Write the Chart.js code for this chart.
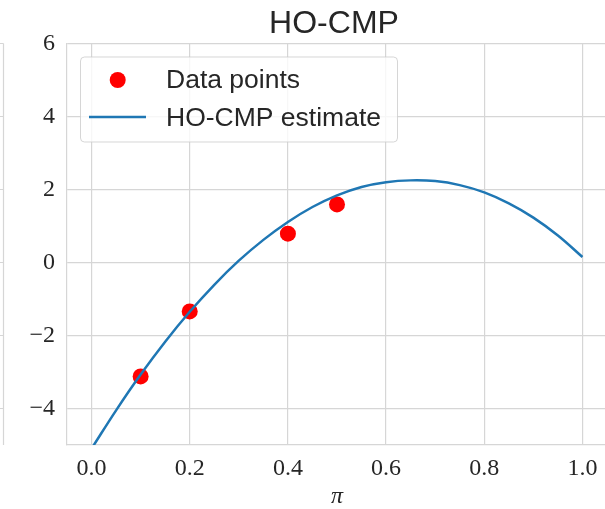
<!DOCTYPE html>
<html>
<head>
<meta charset="utf-8">
<script src="https://cdn.jsdelivr.net/npm/chart.js@4.4.1/dist/chart.umd.min.js"></script>
<style>
  html, body { margin: 0; padding: 0; background: #ffffff; overflow: hidden; width: 605px; height: 509px; }
  #c { display: block; }
</style>
</head>
<body>
<canvas id="c" width="640" height="509" style="width:640px;height:509px;"></canvas>
<script>
// ---- data ----
const chartTitle = 'HO-CMP';
const xAxisLabel = 'π';
const seriesPointsLabel = 'Data points';
const seriesCurveLabel = 'HO-CMP estimate';

const pointX = [0.1, 0.2, 0.4, 0.5];
const pointY = [-3.12, -1.34, 0.79, 1.59];

const curveX = [0.00, 0.05, 0.10, 0.15, 0.20, 0.25, 0.30, 0.35, 0.40, 0.45, 0.50,
                0.55, 0.60, 0.65, 0.70, 0.75, 0.80, 0.85, 0.90, 0.95, 1.00];
const curveY = [-5.10, -4.05, -3.07, -2.17, -1.35, -0.61, 0.05, 0.62, 1.11, 1.52, 1.84,
                2.07, 2.20, 2.25, 2.23, 2.12, 1.92, 1.62, 1.23, 0.74, 0.15];

const xTicks = [0.0, 0.2, 0.4, 0.6, 0.8, 1.0];
const xTickLabels = ['0.0', '0.2', '0.4', '0.6', '0.8', '1.0'];
const yTicks = [-4, -2, 0, 2, 4, 6];
const yTickLabels = ['\u22124', '\u22122', '0', '2', '4', '6'];

const xRange = [-0.05, 1.05];
const yRange = [-5, 6];

// ---- styles ----
const TEXT = '#262626';
const GRID = '#d6d6d6';
const RED = '#ff0000';
const BLUE = '#1f77b4';
const SERIF = '"Liberation Serif", "DejaVu Serif", serif';
const SANS = '"Liberation Sans", Arial, "DejaVu Sans", sans-serif';

const overlay = {
  id: 'overlay',
  afterDraw(chart) {
    const ctx = chart.ctx;
    const a = chart.chartArea;
    const ys = chart.scales.y;
    ctx.save();
    // remnant of neighbouring subplot on the left
    ctx.strokeStyle = GRID;
    ctx.lineWidth = 1.2;
    ctx.beginPath();
    ctx.moveTo(3.5, a.top);
    ctx.lineTo(3.5, a.bottom);
    yTicks.forEach(v => {
      const p = ys.getPixelForValue(v);
      ctx.moveTo(0, p);
      ctx.lineTo(3.5, p);
    });
    ctx.stroke();

    // title
    ctx.fillStyle = TEXT;
    ctx.font = '32px ' + SANS;
    ctx.textAlign = 'center';
    ctx.textBaseline = 'alphabetic';
    ctx.fillText(chartTitle, 334, 33);

    // legend
    const bx = 80.5, by = 57, bw = 317, bh = 85;
    ctx.beginPath();
    ctx.roundRect(bx, by, bw, bh, 4);
    ctx.fillStyle = 'rgba(255,255,255,0.8)';
    ctx.fill();
    ctx.strokeStyle = 'rgba(204,204,204,0.8)';
    ctx.lineWidth = 1;
    ctx.stroke();

    const ds = chart.data.datasets;
    ctx.beginPath();
    ctx.arc(117.7, 80, 8, 0, Math.PI * 2);
    ctx.fillStyle = ds[0].backgroundColor;
    ctx.fill();
    ctx.beginPath();
    ctx.moveTo(89, 117);
    ctx.lineTo(146, 117);
    ctx.strokeStyle = ds[1].borderColor;
    ctx.lineWidth = 2.5;
    ctx.stroke();

    ctx.fillStyle = TEXT;
    ctx.font = '26.5px ' + SANS;
    ctx.textAlign = 'left';
    ctx.textBaseline = 'alphabetic';
    ctx.fillText(ds[0].label, 166, 88);
    ctx.fillText(ds[1].label, 166, 126);
    ctx.restore();
  }
};

new Chart(document.getElementById('c'), {
  type: 'scatter',
  data: {
    datasets: [
      {
        type: 'scatter',
        label: seriesPointsLabel,
        data: pointX.map((x, i) => ({ x: x, y: pointY[i] })),
        backgroundColor: RED,
        borderColor: RED,
        pointRadius: 8,
        pointBorderWidth: 0,
        order: 1
      },
      {
        type: 'line',
        label: seriesCurveLabel,
        data: curveX.map((x, i) => ({ x: x, y: curveY[i] })),
        borderColor: BLUE,
        backgroundColor: BLUE,
        borderWidth: 2.5,
        pointRadius: 0,
        showLine: true,
        fill: false,
        tension: 0.4,
        order: 0
      }
    ]
  },
  options: {
    responsive: false,
    animation: false,
    devicePixelRatio: 1,
    layout: { padding: { top: 43.5, right: 33, bottom: 0, left: 0 } },
    plugins: {
      legend: { display: false },
      title: { display: false },
      tooltip: { enabled: false }
    },
    scales: {
      x: {
        type: 'linear',
        min: xRange[0],
        max: xRange[1],
        afterBuildTicks: s => { s.ticks = xTicks.map(v => ({ value: v })); },
        afterFit: s => { s.height = 64; },
        grid: { color: GRID, lineWidth: 1.2, drawTicks: false },
        border: { display: true, color: GRID, width: 1.2 },
        ticks: {
          color: TEXT,
          font: { family: SERIF, size: 24 },
          padding: 9,
          maxRotation: 0,
          autoSkip: false,
          callback: (v, i) => xTickLabels[i]
        },
        title: {
          display: true,
          text: xAxisLabel,
          color: TEXT,
          font: { family: SERIF, size: 24, style: 'italic', lineHeight: 1 },
          padding: { top: 0, bottom: 0 }
        }
      },
      y: {
        type: 'linear',
        min: yRange[0],
        max: yRange[1],
        afterBuildTicks: s => { s.ticks = yTicks.map(v => ({ value: v })); },
        afterFit: s => { s.width = 67; },
        grid: { color: GRID, lineWidth: 1.2, drawTicks: false },
        border: { display: true, color: GRID, width: 1.2 },
        ticks: {
          color: TEXT,
          font: { family: SERIF, size: 24 },
          padding: 12,
          autoSkip: false,
          callback: (v, i) => yTickLabels[i]
        }
      }
    }
  },
  plugins: [overlay]
});
</script>
</body>
</html>
